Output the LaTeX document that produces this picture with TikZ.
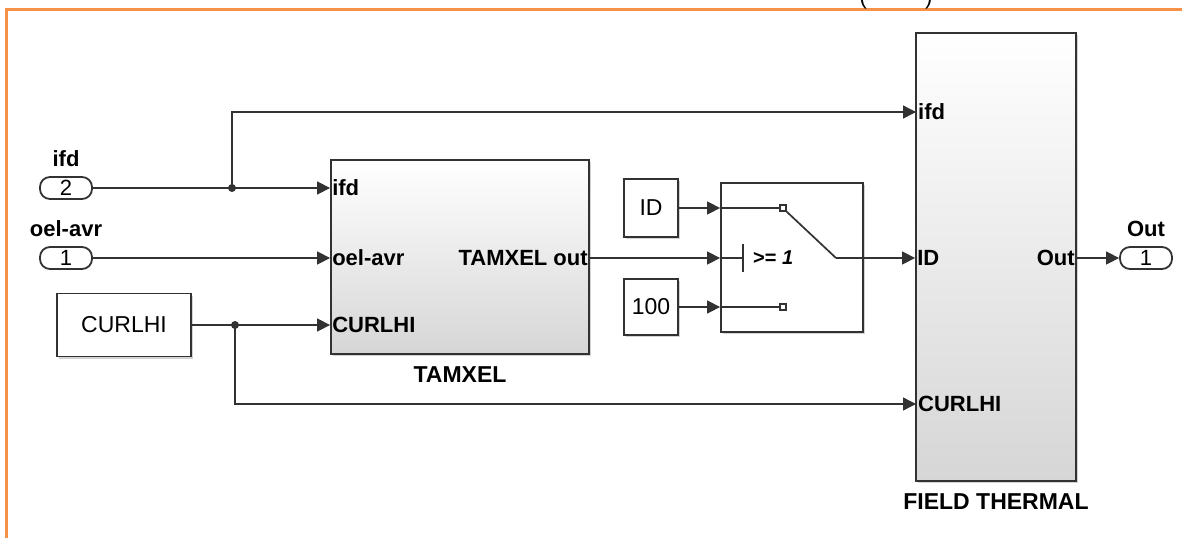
\documentclass[tikz,border=0pt]{standalone}
\usepackage{fontspec}
\setmainfont{Liberation Sans}
\usetikzlibrary{arrows.meta,positioning,shadows}
\definecolor{frameorange}{RGB}{245,146,72}
\definecolor{blkgray}{RGB}{214,214,214}
\definecolor{wiregray}{RGB}{50,50,50}

\begin{document}
\begin{tikzpicture}[x=1pt, y=-1pt,
    sysblk/.style={rectangle, draw=wiregray, line width=1.8pt, top color=white, bottom color=blkgray,
                   drop shadow={shadow xshift=2pt, shadow yshift=-2pt, opacity=0.35}},
    cstblk/.style={rectangle, draw=wiregray, line width=1.8pt, fill=white, inner sep=0pt,
                   drop shadow={shadow xshift=2pt, shadow yshift=-2pt, opacity=0.35},
                   font=\fontsize{23}{26}\selectfont},
    iport/.style={rectangle, rounded corners=10pt, draw=wiregray, line width=1.8pt, fill=white,
                  minimum width=52pt, minimum height=22pt, inner sep=0pt, font=\fontsize{22}{24}\selectfont},
    plbl/.style={inner sep=2pt, font=\fontsize{22}{24}\selectfont\bfseries},
    nlbl/.style={font=\fontsize{23}{26}\selectfont\bfseries},
    sig/.style={line width=1.4pt, wiregray},
    arr/.style={-{Triangle[length=13pt, width=13pt]}, line width=1.4pt, wiregray}
  ]
  \useasboundingbox (0,0) rectangle (1182,538);
  \draw[frameorange, line width=3pt] (1182,9) -- (6,9) -- (6,538);
  \node[anchor=base, font=\fontsize{22}{24}\selectfont] (cap) at (896,5) {(\hspace{58pt})};

  % inputs
  \node[iport] (in2) at (66,188) {2};
  \node[plbl, above=7pt of in2] (in2lbl) {ifd};
  \node[iport] (in1) at (66,258) {1};
  \node[plbl, above=7pt of in1] (in1lbl) {oel-avr};
  \node[cstblk, minimum width=134pt, minimum height=63pt] (curlhi) at (124,325) {CURLHI};

  % TAMXEL subsystem
  \node[sysblk, minimum width=258pt, minimum height=194pt] (tamxel) at (460,257) {};
  \node[plbl, anchor=west] (tm-ifd) at (tamxel.west |- in2) {ifd};
  \node[plbl, anchor=west] (tm-oel) at (tamxel.west |- in1) {oel-avr};
  \node[plbl, anchor=west] (tm-curl) at (tamxel.west |- curlhi) {CURLHI};
  \node[plbl, anchor=east] (tm-out) at (tamxel.east |- in1) {TAMXEL out};
  \node[nlbl, below=8pt of tamxel] (tamxel-name) {TAMXEL};

  % switch with constants
  \node[cstblk, minimum width=54pt, minimum height=58pt] (id) at (651,208) {ID};
  \node[cstblk, minimum width=54pt, minimum height=56pt] (hundred) at (651,307) {100};
  \node[rectangle, draw=wiregray, line width=1.8pt, fill=white, minimum width=142pt, minimum height=149pt,
        drop shadow={shadow xshift=2pt, shadow yshift=-2pt, opacity=0.35}] (sw) at (792,257.5) {};
  \node[draw=wiregray, line width=1.1pt, fill=white, minimum size=6pt, inner sep=0pt] (sw-up) at (783,208) {};
  \node[draw=wiregray, line width=1.1pt, fill=white, minimum size=6pt, inner sep=0pt] (sw-lo) at (783,307) {};
  \coordinate (sw-bar) at (743,258);
  \coordinate (sw-pivot) at (836,258);
  \node[anchor=west, inner sep=0pt, font=\fontsize{20}{22}\selectfont\bfseries] (sw-crit) at (753,258) {>= \itshape 1};

  % FIELD THERMAL subsystem
  \node[sysblk, minimum width=160pt, minimum height=448pt] (ft) at (996,257) {};
  \node[plbl, anchor=west] (ft-ifd) at (916,112) {ifd};
  \node[plbl, anchor=west] (ft-id) at (ft.west |- in1) {ID};
  \node[plbl, anchor=west] (ft-curl) at (916,404) {CURLHI};
  \node[plbl, anchor=east] (ft-out) at (ft.east |- in1) {Out};
  \node[nlbl, below=8pt of ft] (ft-name) {FIELD THERMAL};

  % output
  \node[iport] (out1) at (1146,258) {1};
  \node[plbl, above=7pt of out1] (out1lbl) {Out};

  % wiring
  \coordinate (j1) at (232,188);
  \coordinate (j2) at (235,325);
  \draw[arr] (in2) -- (tm-ifd.west);
  \draw[arr] (j1) |- (ft-ifd.west);
  \fill[wiregray] (j1) circle (4pt);
  \draw[arr] (in1) -- (tm-oel.west);
  \draw[arr] (curlhi) -- (tm-curl.west);
  \draw[arr] (j2) |- (ft-curl.west);
  \fill[wiregray] (j2) circle (4pt);
  \draw[arr] (id) -- (sw.west |- id);
  \draw[arr] (hundred) -- (sw.west |- hundred);
  \draw[arr] (tm-out.east) -- (sw.west |- tm-out);
  \draw[sig] (sw.west |- id) -- (sw-up.west);
  \draw[sig] (sw.west |- hundred) -- (sw-lo.west);
  \draw[sig] (sw.west |- sw-bar) -- (sw-bar);
  \draw[sig, line width=1.7pt] ([yshift=-14pt]sw-bar) -- ([yshift=14pt]sw-bar);
  \draw[sig, line width=1.7pt] (sw-up.south east) -- (sw-pivot);
  \draw[arr] (sw-pivot) -- (ft-id.west);
  \draw[arr] (ft-out.east) -- (out1.west);
\end{tikzpicture}
\end{document}
